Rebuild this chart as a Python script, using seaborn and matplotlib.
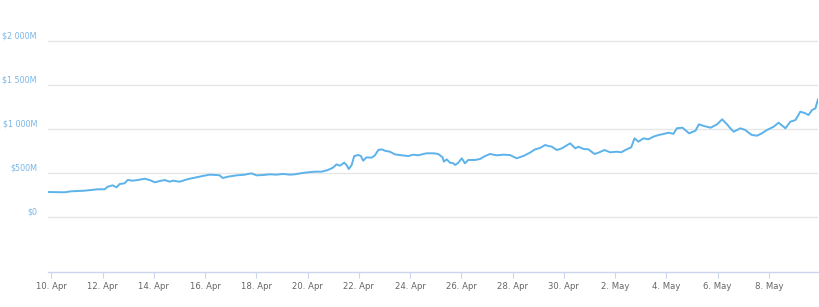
import matplotlib
matplotlib.use("Agg")
import matplotlib.pyplot as plt
import seaborn as sns
import pandas as pd

# Days since 10 Apr 2018 00:00
day = [-0.13, 0.52, 0.78, 1.03, 1.30, 1.56, 1.81, 2.08, 2.20, 2.39, 2.54, 2.67, 2.86, 2.98,
       3.18, 3.37, 3.64, 3.84, 4.04, 4.23, 4.43, 4.62, 4.74, 5.01, 5.21, 5.40, 5.66, 5.91,
       6.18, 6.45, 6.57, 6.69, 6.89, 7.23, 7.55, 7.81, 8.01, 8.25, 8.53, 8.79, 9.04, 9.31,
       9.50, 9.89, 10.28, 10.55, 10.79, 10.99, 11.13, 11.26, 11.43, 11.52, 11.61, 11.72,
       11.82, 11.98, 12.08, 12.17, 12.30, 12.50, 12.63, 12.76, 12.89, 13.02, 13.21, 13.41,
       13.67, 13.93, 14.13, 14.32, 14.52, 14.65, 14.91, 15.10, 15.27, 15.32, 15.43, 15.56,
       15.69, 15.76, 15.88, 16.02, 16.14, 16.27, 16.53, 16.73, 16.93, 17.12, 17.38, 17.64,
       17.90, 18.16, 18.42, 18.68, 18.88, 19.07, 19.27, 19.40, 19.53, 19.73, 19.92, 20.25,
       20.45, 20.57, 20.77, 20.96, 21.20, 21.35, 21.59, 21.81, 22.07, 22.24, 22.40, 22.63,
       22.76, 22.91, 23.11, 23.30, 23.50, 23.70, 23.89, 24.09, 24.28, 24.41, 24.63, 24.89,
       25.14, 25.27, 25.47, 25.73, 25.98, 26.18, 26.37, 26.50, 26.63, 26.89, 27.08, 27.21,
       27.34, 27.54, 27.73, 27.93, 28.19, 28.38, 28.65, 28.84, 29.04, 29.23, 29.43, 29.55,
       29.69, 29.82, 29.92]
# Market cap in $M
value = [284, 281, 292, 295, 299, 307, 315, 315, 344, 360, 337, 375, 383, 420,
         413, 420, 435, 420, 394, 409, 420, 401, 413, 401, 420, 435, 451, 466,
         481, 477, 473, 443, 458, 473, 481, 496, 473, 477, 485, 481, 489, 481,
         485, 504, 515, 515, 534, 560, 598, 583, 617, 591, 545, 591,
         693, 704, 693, 640, 678, 674, 701, 761, 769, 753, 742, 712,
         701, 693, 708, 701, 716, 724, 724, 716, 678, 629, 655, 617,
         610, 591, 617, 667, 610, 648, 648, 659, 693, 716, 701, 708,
         704, 667, 693, 731, 769, 784, 818, 807, 799, 761, 780, 837,
         780, 799, 773, 769, 716, 731, 761, 735, 742, 735, 761, 792,
         894, 856, 894, 883, 913, 932, 943, 958, 945, 1008, 1015, 951,
         981, 1053, 1034, 1015, 1053, 1110, 1053, 1008, 969, 1008, 989, 958,
         932, 924, 951, 989, 1026, 1072, 1008, 1083, 1102, 1197, 1178, 1159,
         1216, 1235, 1340]

y_ticks = [0, 500, 1000, 1500, 2000]
y_labels = ["$0", "$500M", "$1 000M", "$1 500M", "$2 000M"]
x_tick_dates = ["2018-04-10", "2018-04-12", "2018-04-14", "2018-04-16", "2018-04-18",
                "2018-04-20", "2018-04-22", "2018-04-24", "2018-04-26", "2018-04-28",
                "2018-04-30", "2018-05-02", "2018-05-04", "2018-05-06", "2018-05-08"]
x_tick_labels = ["10. Apr", "12. Apr", "14. Apr", "16. Apr", "18. Apr", "20. Apr",
                 "22. Apr", "24. Apr", "26. Apr", "28. Apr", "30. Apr", "2. May",
                 "4. May", "6. May", "8. May"]

start = pd.Timestamp("2018-04-10")
df = pd.DataFrame({"date": [start + pd.Timedelta(days=d) for d in day], "value": value})

sns.set_theme(style="white")
plt.rcParams['font.family'] = ['DejaVu Sans']

W, H = 820, 307
fig = plt.figure(figsize=(W / 100, H / 100), dpi=100)
left_px, right_px, top_px, bottom_px = 48, 818, 10, 272
ax = fig.add_axes([left_px / W, 1 - bottom_px / H, (right_px - left_px) / W, (bottom_px - top_px) / H])

line_color = "#5cb2ea"
sns.lineplot(data=df, x="date", y="value", ax=ax, color=line_color, linewidth=1.4)

# y scale: 0 at y=217 px, 44 px per 500M
per_px = 500 / 44.0
ax.set_ylim((217 - bottom_px) * per_px, (217 - top_px) * per_px)
ax.set_xlim(df["date"].iloc[0], df["date"].iloc[-1])

for t in y_ticks:
    ax.axhline(t, color="#e6e6e6", linewidth=1.0, zorder=0)
ax.set_yticks([])
for t, lab in zip(y_ticks, y_labels):
    ax.annotate(lab, xy=(0, t), xycoords=("axes fraction", "data"),
                xytext=(-11, 4.5), textcoords="offset pixels",
                ha="right", va="center", fontsize=5.8, color="#7ab6e8")

ticks = [pd.Timestamp(d) for d in x_tick_dates]
ax.set_xticks(ticks)
ax.set_xticklabels(x_tick_labels, fontsize=6.1, color="#666666")
ax.tick_params(axis="x", length=4.5, width=0.8, color="#ccd6eb", pad=3, bottom=True)
ax.set_xlabel("")
ax.set_ylabel("")

for s in ["top", "right", "left"]:
    ax.spines[s].set_visible(False)
ax.spines["bottom"].set_color("#ccd6eb")
ax.spines["bottom"].set_linewidth(1.0)

fig.savefig("out.png", dpi=100, facecolor="white")
